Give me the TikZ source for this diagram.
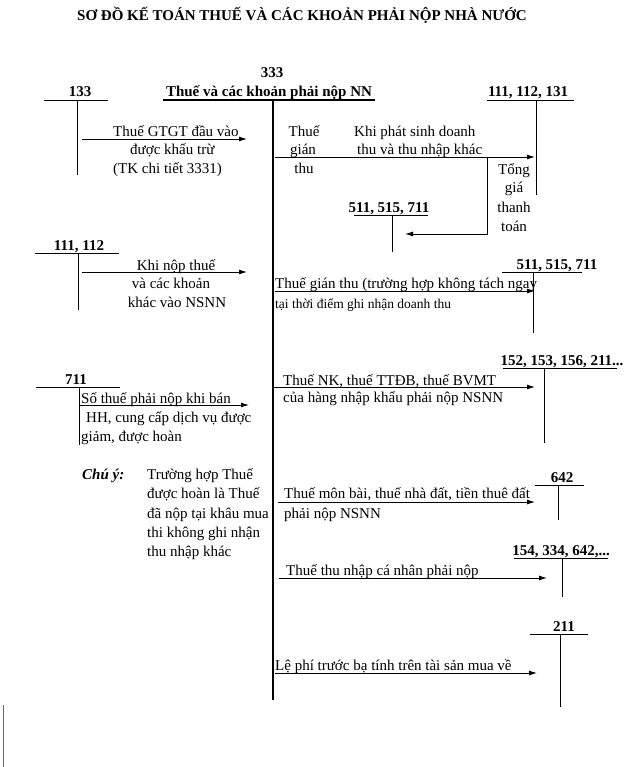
\documentclass[tikz,border=0pt]{standalone}
\usepackage{fontspec}
\setmainfont{Liberation Serif}
\usetikzlibrary{arrows.meta}
\begin{document}
\begin{tikzpicture}[x=1pt,y=-1pt,
  txt/.style={font=\fontsize{15}{18}\selectfont, inner sep=0pt, anchor=base west},
  ctxt/.style={font=\fontsize{15}{18}\selectfont, inner sep=0pt, anchor=base},
  small/.style={font=\fontsize{13.5}{16}\selectfont, inner sep=0pt, anchor=base west},
  acc/.style={font=\bfseries\fontsize{15}{18}\selectfont, inner sep=0pt, anchor=base},
  uline/.style={line width=0.9pt},
  vline/.style={line width=0.9pt},
  arr/.style={line width=0.9pt,-{Latex[length=8pt,width=5pt]}},
]
\useasboundingbox (0,0) rectangle (642,767);

% title
\node[font=\bfseries\fontsize{15}{18}\selectfont, inner sep=0pt, anchor=base] (title) at (302,21) {SƠ ĐỒ KẾ TOÁN THUẾ VÀ CÁC KHOẢN PHẢI NỘP NHÀ NƯỚC};

% central account 333
\node[acc] (a333) at (272,78) {333};
\node[acc] (a333n) at (269,97) {Thuế và các khoản phải nộp NN};
\coordinate (u333a) at (163,100); \coordinate (u333b) at (375,100);
\draw[line width=2.2pt] (u333a) -- (u333b);
\coordinate (c333t) at (273,100); \coordinate (c333b) at (273,700);
\draw[line width=1.8pt] (c333t) -- (c333b);

% account 133
\node[acc] (a133) at (80,97) {133};
\coordinate (u133a) at (44,100); \coordinate (u133b) at (108,100);
\draw[uline] (u133a) -- (u133b);
\coordinate (v133t) at (77,100); \coordinate (v133b) at (77,175);
\draw[vline] (v133t) -- (v133b);

% account 111,112,131
\node[acc] (a111) at (528,97) {111, 112, 131};
\coordinate (u111a) at (487,100); \coordinate (u111b) at (574,100);
\draw[uline] (u111a) -- (u111b);
\coordinate (v111t) at (536,100); \coordinate (v111b) at (536,195);
\draw[vline] (v111t) -- (v111b);

% account 511 middle
\node[acc] (a511m) at (389,212) {511, 515, 711};
\coordinate (u511ma) at (354,215); \coordinate (u511mb) at (428,215);
\draw[uline] (u511ma) -- (u511mb);
\coordinate (v511mt) at (392,215); \coordinate (v511mb) at (392,252);
\draw[vline] (v511mt) -- (v511mb);

% account 111,112
\node[acc] (a1112) at (79,250) {111, 112};
\coordinate (u1112a) at (35,253); \coordinate (u1112b) at (119,253);
\draw[uline] (u1112a) -- (u1112b);
\coordinate (v1112t) at (78,253); \coordinate (v1112b) at (78,310);
\draw[vline] (v1112t) -- (v1112b);

% account 511 right
\node[acc] (a511r) at (557,269) {511, 515, 711};
\coordinate (u511ra) at (502,272); \coordinate (u511rb) at (582,272);
\draw[uline] (u511ra) -- (u511rb);
\coordinate (v511rt) at (533,272); \coordinate (v511rb) at (533,333);
\draw[vline] (v511rt) -- (v511rb);

% account 152...
\node[acc] (a152) at (562,365) {152, 153, 156, 211...};
\coordinate (u152a) at (503,368); \coordinate (u152b) at (617,368);
\draw[uline] (u152a) -- (u152b);
\coordinate (v152t) at (544,368); \coordinate (v152b) at (544,443);
\draw[vline] (v152t) -- (v152b);

% account 711
\node[acc] (a711) at (76,384) {711};
\coordinate (u711a) at (36,387); \coordinate (u711b) at (120,387);
\draw[uline] (u711a) -- (u711b);
\coordinate (v711t) at (79,387); \coordinate (v711b) at (79,445);
\draw[vline] (v711t) -- (v711b);

% account 642
\node[acc] (a642) at (562,482) {642};
\coordinate (u642a) at (535,485); \coordinate (u642b) at (584,485);
\draw[uline] (u642a) -- (u642b);
\coordinate (v642t) at (558,485); \coordinate (v642b) at (558,520);
\draw[vline] (v642t) -- (v642b);

% account 154...
\node[acc] (a154) at (561,555) {154, 334, 642,...};
\coordinate (u154a) at (514,558); \coordinate (u154b) at (608,558);
\draw[uline] (u154a) -- (u154b);
\coordinate (v154t) at (562,558); \coordinate (v154b) at (562,597);
\draw[vline] (v154t) -- (v154b);

% account 211
\node[acc] (a211) at (564,631) {211};
\coordinate (u211a) at (530,634); \coordinate (u211b) at (588,634);
\draw[uline] (u211a) -- (u211b);
\coordinate (v211t) at (560,634); \coordinate (v211b) at (560,707);
\draw[vline] (v211t) -- (v211b);

% arrow 1
\coordinate (r1a) at (82,139); \coordinate (r1b) at (247,139);
\draw[arr] (r1a) -- (r1b);
\node[txt] (t1a) at (113,137) {Thuế GTGT đầu vào};
\node[txt] (t1b) at (130,155) {được khấu trừ};
\node[txt] (t1c) at (113,174) {(TK chi tiết 3331)};

% arrow 2
\coordinate (r2a) at (275,157); \coordinate (r2b) at (535,157);
\draw[arr] (r2a) -- (r2b);
\node[ctxt] (t2a) at (304,137) {Thuế};
\node[ctxt] (t2b) at (303,155) {gián};
\node[ctxt] (t2c) at (304,174) {thu};
\node[txt] (t2d) at (354,137) {Khi phát sinh doanh};
\node[txt] (t2e) at (357,155) {thu và thu nhập khác};
\node[ctxt] (t2f) at (514,175) {Tổng};
\node[ctxt] (t2g) at (514,193) {giá};
\node[ctxt] (t2h) at (514,212) {thanh};
\node[ctxt] (t2i) at (514,231) {toán};
\coordinate (br1) at (487,157); \coordinate (br2) at (487,234); \coordinate (br3) at (405,234);
\draw[arr] (br1) -- (br2) -- (br3);

% arrow 3
\coordinate (r3a) at (82,272); \coordinate (r3b) at (247,272);
\draw[arr] (r3a) -- (r3b);
\node[ctxt] (t3a) at (176,270) {Khi nộp thuế};
\node[ctxt] (t3b) at (171,288) {và các khoản};
\node[ctxt] (t3c) at (177,307) {khác vào NSNN};

% arrow 4
\coordinate (r4a) at (275,291); \coordinate (r4b) at (535,291);
\draw[arr] (r4a) -- (r4b);
\node[txt] (t4a) at (275,288) {Thuế gián thu (trường hợp không tách ngay};
\node[small] (t4b) at (275,308) {tại thời điểm ghi nhận doanh thu};

% arrow 5
\coordinate (r5a) at (274,387); \coordinate (r5b) at (535,387);
\draw[arr] (r5a) -- (r5b);
\node[txt] (t5a) at (283,385) {Thuế NK, thuế TTĐB, thuế BVMT};
\node[txt] (t5b) at (283,402) {của hàng nhập khẩu phải nộp NSNN};

% arrow 6
\coordinate (r6a) at (79,405); \coordinate (r6b) at (249,405);
\draw[arr] (r6a) -- (r6b);
\node[txt] (t6a) at (81,403) {Số thuế phải nộp khi bán};
\node[txt] (t6b) at (86,422) {HH, cung cấp dịch vụ được};
\node[txt] (t6c) at (81,441) {giảm, được hoàn};

% note
\node[txt, font=\bfseries\itshape\fontsize{15}{18}\selectfont] (note) at (82,479) {Chú ý:};
\node[txt] (n1) at (147,479) {Trường hợp Thuế};
\node[txt] (n2) at (147,498) {được hoàn là Thuế};
\node[txt] (n3) at (147,518) {đã nộp tại khâu mua};
\node[txt] (n4) at (147,537) {thi không ghi nhận};
\node[txt] (n5) at (147,556) {thu nhập khác};

% arrow 7
\coordinate (r7a) at (278,502); \coordinate (r7b) at (535,502);
\draw[arr] (r7a) -- (r7b);
\node[txt] (t7a) at (284,498) {Thuế môn bài, thuế nhà đất, tiền thuê đất};
\node[txt] (t7b) at (284,518) {phải nộp NSNN};

% arrow 8
\coordinate (r8a) at (279,578); \coordinate (r8b) at (547,578);
\draw[arr] (r8a) -- (r8b);
\node[txt] (t8a) at (286,575) {Thuế thu nhập cá nhân phải nộp};

% arrow 9
\coordinate (r9a) at (275,673); \coordinate (r9b) at (537,673);
\draw[arr] (r9a) -- (r9b);
\node[txt] (t9a) at (275,670) {Lệ phí trước bạ tính trên tài sản mua về};

% scan mark
\coordinate (m1) at (3,705); \coordinate (m2) at (3,767);
\draw[line width=1pt, black!60] (m1) -- (m2);
\end{tikzpicture}
\end{document}
